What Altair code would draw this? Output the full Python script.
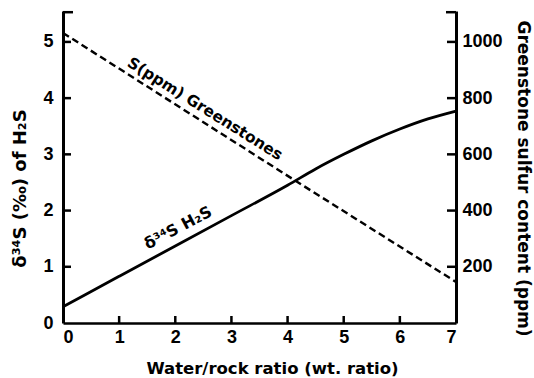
import altair as alt
import pandas as pd

# delta34S of H2S (left axis, per mil) vs water/rock ratio
wr_h2s = [0, 1, 2, 3, 4, 4.5, 5, 5.5, 6, 6.5, 7]
d34s_h2s = [0.29, 0.83, 1.37, 1.91, 2.45, 2.74, 3.0, 3.24, 3.45, 3.63, 3.77]

# Greenstone sulfur content (right axis, ppm)
wr_s = [0, 4.14, 7]
s_ppm = [1032, 506, 146]

x_ticks = [0, 1, 2, 3, 4, 5, 6, 7]
left_ticks = [0, 1, 2, 3, 4, 5]
right_ticks = [200, 400, 600, 800, 1000]

FONT = "Liberation Sans"
TFONT = "DejaVu Sans"
W, H = 393, 312
XMAX, YMAX = 7, 5.55
PPM_PER_UNIT = 200  # right axis: 200 ppm per left-axis unit

df1 = pd.DataFrame({"wr": wr_h2s, "d": d34s_h2s})
df2 = pd.DataFrame({"wr": wr_s, "s": s_ppm})

xscale = alt.Scale(domain=[0, XMAX], nice=False, padding=0)
yscale = alt.Scale(domain=[0, YMAX], nice=False, zero=False, padding=0)

tx = XMAX / W   # data units per pixel on x
ty = YMAX / H   # data units per pixel on y

xaxis = alt.Axis(values=x_ticks, format="d", ticks=False, grid=False, domainWidth=2.5,
                 domainColor="black", labelFont=FONT, labelFontWeight="bold", labelFontSize=18,
                 labelPadding=5, labelColor="black", title="Water/rock  ratio (wt. ratio)",
                 titleFont=TFONT, titleFontSize=16.5, titleFontWeight="bold", titleColor="black",
                 titleX=209, titleY=45, titleBaseline="middle", titleAlign="center")

solid = alt.Chart(df1).mark_line(color="black", strokeWidth=2.8, interpolate="monotone").encode(
    x=alt.X("wr:Q", scale=xscale, axis=xaxis),
    y=alt.Y("d:Q", scale=yscale, axis=alt.Axis(
        values=left_ticks, format="d", ticks=False, grid=False, domainWidth=3,
        domainColor="black", labelFont=FONT, labelFontWeight="bold", labelFontSize=18,
        labelPadding=10, labelColor="black", title="δ³⁴S (‰) of H₂S", titleFont=TFONT,
        titleFontSize=18, titleFontWeight="bold", titleColor="black", titleAngle=-90,
        titleX=-43, titleY=177, titleBaseline="middle", titleAlign="center")),
)

dashed = alt.Chart(df2).transform_calculate(
    sl=f"datum.s / {PPM_PER_UNIT}"
).mark_line(color="black", strokeWidth=2.4, strokeDash=[7, 4]).encode(
    x=alt.X("wr:Q", scale=xscale),
    y=alt.Y("sl:Q", scale=yscale, axis=alt.Axis(
        orient="right", values=[v / PPM_PER_UNIT for v in right_ticks],
        labelExpr=f"format(datum.value * {PPM_PER_UNIT}, 'd')", ticks=False, grid=False,
        domainWidth=3, domainColor="black", labelFont=FONT, labelFontWeight="bold",
        labelFontSize=18, labelPadding=6, labelColor="black",
        title="Greenstone sulfur content (ppm)", titleFont=TFONT, titleFontSize=17,
        titleFontWeight="bold", titleColor="black", titleAngle=90, titleX=66, titleY=167,
        titleBaseline="middle", titleAlign="center")),
)

# inward-pointing tick marks drawn as thin bars
lt = pd.DataFrame({"v": left_ticks[1:]})
left_tick_marks = alt.Chart(lt).mark_bar(color="black", size=2.5).encode(
    y=alt.Y("v:Q", scale=yscale, axis=None),
    x=alt.XDatum(0, scale=xscale), x2=alt.X2Datum(8 * tx))

xt = pd.DataFrame({"v": x_ticks[1:-1]})
bottom_tick_marks = alt.Chart(xt).mark_bar(color="black", size=2.5).encode(
    x=alt.X("v:Q", scale=xscale),
    y=alt.YDatum(0, scale=yscale, axis=None), y2=alt.Y2Datum(7 * ty))

rt = pd.DataFrame({"v": [v / PPM_PER_UNIT for v in right_ticks]})
right_tick_marks = alt.Chart(rt).mark_bar(color="black", size=2.5).encode(
    y=alt.Y("v:Q", scale=yscale, axis=None),
    x=alt.XDatum(XMAX - 9 * tx, scale=xscale), x2=alt.X2Datum(XMAX))

top = pd.DataFrame({"v": [YMAX - 1.2 * ty]})
stub_l = alt.Chart(top).mark_bar(color="black", size=2.5).encode(
    y=alt.Y("v:Q", scale=yscale, axis=None),
    x=alt.XDatum(0, scale=xscale), x2=alt.X2Datum(10 * tx))
stub_r = alt.Chart(top).mark_bar(color="black", size=2.5).encode(
    y=alt.Y("v:Q", scale=yscale, axis=None),
    x=alt.XDatum(XMAX - 10 * tx, scale=xscale), x2=alt.X2Datum(XMAX))

one = pd.DataFrame({"v": [0]})
lab1 = alt.Chart(one).mark_text(text="S(ppm) Greenstones", angle=32, font=TFONT,
                                fontSize=15.5, fontWeight="bold", color="black").encode(
    x=alt.XDatum(2.53, scale=xscale), y=alt.YDatum(3.81, scale=yscale, axis=None))
lab2 = alt.Chart(one).mark_text(text="δ³⁴S H₂S", angle=332, font=TFONT, fontSize=16,
                                fontWeight="bold", color="black").encode(
    x=alt.XDatum(2.05, scale=xscale), y=alt.YDatum(1.69, scale=yscale, axis=None))

chart = alt.layer(solid, dashed, left_tick_marks, bottom_tick_marks, right_tick_marks,
                  stub_l, stub_r, lab1, lab2).resolve_axis(y="independent").properties(
    width=W, height=H,
    padding={"left": 63, "top": 11, "right": 78, "bottom": 55},
    autosize=alt.AutoSizeParams(type="none"),
    background="white",
).configure_view(stroke=None)

chart.save("out.html", embed_options={"renderer": "svg", "actions": False})
